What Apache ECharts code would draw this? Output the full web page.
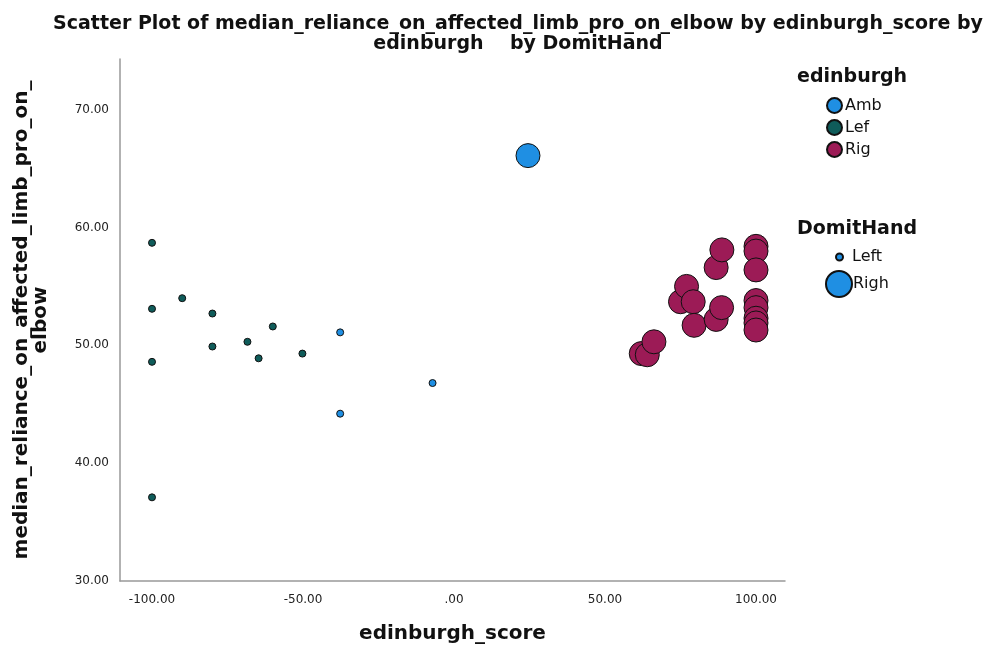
<!DOCTYPE html>
<html>
<head>
<meta charset="utf-8">
<script src="https://cdn.jsdelivr.net/npm/echarts@6/dist/echarts.min.js"></script>
<style>html,body{margin:0;padding:0;background:#fff}#c{width:1004px;height:650px}</style>
</head>
<body>
<div id="c"></div>
<script>
// edinburgh = Amb, DomitHand = Left
const ambLeft = [[-37.7, 51.1], [-37.7, 44.2], [-7.1, 46.8]];
// edinburgh = Amb, DomitHand = Righ
const ambRight = [[24.5, 66.1]];
// edinburgh = Lef, DomitHand = Left
const lefLeft = [
  [-100, 58.7], [-90, 54.0], [-100, 53.1], [-80, 52.7], [-60, 51.6],
  [-80, 49.9], [-68.4, 50.3], [-64.7, 48.9], [-50.2, 49.3], [-100, 48.6], [-100, 37.1]
];
// edinburgh = Rig, DomitHand = Righ
const rigRight = [
  [62, 49.3], [64, 49.2], [66.2, 50.3], [75, 53.7], [77, 55.0], [79.2, 53.7],
  [79.5, 51.7], [86.8, 52.2], [86.8, 56.6], [88.7, 58.1], [88.6, 53.2],
  [100, 58.4], [100, 58.0], [100, 56.4], [100, 53.8], [100, 53.2], [100, 52.3], [100, 51.9], [100, 51.3]
];
const xTicks = [-100, -50, 0, 50, 100];
const yTicks = [30, 40, 50, 60, 70];
const edinburghCats = ['Amb', 'Lef', 'Rig'];
const handCats = ['Left', 'Righ'];

const colors = { Amb: '#1f8fe3', Lef: '#0f5c5a', Rig: '#9c1b56' };
const smallSize = 7, bigSize = 24;
const font = 'DejaVu Sans';
const fmt = v => { const s = Number(v).toFixed(2); return s.replace(/^0\./, '.').replace(/^-0\./, '-.'); };
const markStyle = c => ({ color: c, borderColor: '#111', borderWidth: 1, opacity: 1 });

function sc(name, data, size) {
  return {
    type: 'scatter', name, data, symbolSize: size,
    itemStyle: markStyle(colors[name] || colors.Amb),
    emphasis: { disabled: true }
  };
}

const chart = echarts.init(document.getElementById('c'), null, { renderer: 'canvas' });
chart.setOption({
  animation: false,
  backgroundColor: '#fff',
  title: {
    text: 'Scatter Plot of median_reliance_on_affected_limb_pro_on_elbow by edinburgh_score by\nedinburgh    by DomitHand',
    left: 518, top: 14, padding: 0, textAlign: 'center',
    textStyle: { fontFamily: font, fontWeight: 'bold', fontSize: 19, lineHeight: 20, color: '#111' }
  },
  grid: { left: 120, right: 219, top: 59, bottom: 69 },
  xAxis: {
    type: 'value', min: -110.6, max: 109.6,
    name: 'edinburgh_score', nameLocation: 'middle', nameGap: 43,
    nameTextStyle: { fontFamily: font, fontWeight: 'bold', fontSize: 20, color: '#111' },
    axisLine: { show: true, onZero: false, lineStyle: { color: '#999', width: 1.5 } },
    axisTick: { show: false },
    splitLine: { show: false },
    axisLabel: { customValues: xTicks, formatter: fmt, fontFamily: font, fontSize: 12, color: '#222', margin: 13 }
  },
  yAxis: {
    type: 'value', min: 30, max: 74.3,
    name: 'median_reliance_on_affected_limb_pro_on_\nelbow', nameLocation: 'middle', nameGap: 70, nameRotate: 90,
    nameTextStyle: { fontFamily: font, fontWeight: 'bold', fontSize: 20, lineHeight: 19, color: '#111' },
    axisLine: { show: true, onZero: false, lineStyle: { color: '#999', width: 1.5 } },
    axisTick: { show: false },
    splitLine: { show: false },
    axisLabel: { customValues: yTicks, formatter: fmt, fontFamily: font, fontSize: 12, color: '#222', margin: 11 }
  },
  legend: [
    {
      data: edinburghCats, orient: 'vertical', left: 826, top: 97, padding: 0, itemWidth: 15, itemHeight: 15, itemGap: 5,
      icon: 'circle', selectedMode: false,
      textStyle: { fontFamily: font, fontSize: 16, color: '#111', padding: [0, 0, 0, -2] }
    },
    {
      data: [handCats[0]], orient: 'vertical', left: 835, top: 249, padding: 0, itemWidth: 7, itemHeight: 7,
      icon: 'circle', selectedMode: false,
      textStyle: { fontFamily: font, fontSize: 16, color: '#111', padding: [0, 0, 0, 4] }
    },
    {
      data: [handCats[1]], orient: 'vertical', left: 825, top: 270, padding: 0, itemWidth: 26, itemHeight: 26,
      icon: 'circle', selectedMode: false,
      textStyle: { fontFamily: font, fontSize: 16, color: '#111', padding: [0, 0, 0, -4] }
    }
  ],
  graphic: [
    { type: 'text', left: 797, top: 68, style: { text: 'edinburgh', font: 'bold 19px "DejaVu Sans"', fill: '#111' } },
    { type: 'text', left: 797, top: 220, style: { text: 'DomitHand', font: 'bold 19px "DejaVu Sans"', fill: '#111' } }
  ],
  series: [
    sc('Amb', ambLeft, smallSize),
    sc('Amb', ambRight, bigSize),
    sc('Lef', lefLeft, smallSize),
    sc('Rig', rigRight, bigSize),
    { type: 'scatter', name: 'Left', data: [], itemStyle: markStyle(colors.Amb) },
    { type: 'scatter', name: 'Righ', data: [], itemStyle: markStyle(colors.Amb) }
  ]
});
</script>
</body>
</html>
